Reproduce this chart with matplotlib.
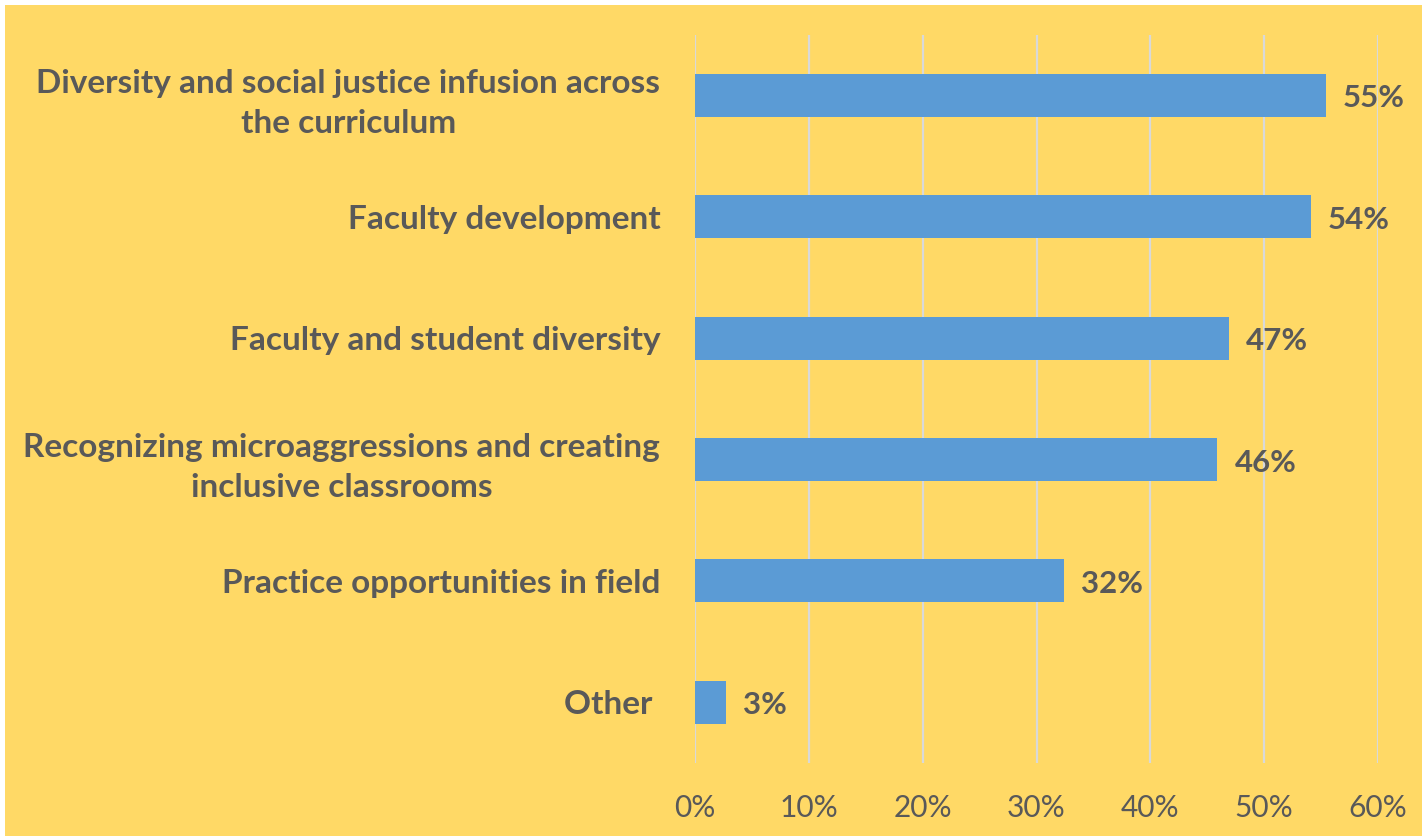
import matplotlib
matplotlib.use("Agg")
import matplotlib.pyplot as plt
from matplotlib.patches import Rectangle
from matplotlib.ticker import FuncFormatter, MultipleLocator

categories = [
    "Diversity and social justice infusion across\nthe curriculum",
    "Faculty development",
    "Faculty and student diversity",
    "Recognizing microaggressions and creating\ninclusive classrooms",
    "Practice opportunities in field",
    "Other ",
]
values = [0.554, 0.541, 0.469, 0.459, 0.324, 0.027]
value_labels = ["55%", "54%", "47%", "46%", "32%", "3%"]

BG = "#FFD966"
BAR = "#5B9BD5"
TXT = "#595959"
GRID = "#D9D9D9"
FONT = "Lato"

fig = plt.figure(figsize=(14.22, 8.36), dpi=100)
fig.patch.set_facecolor("white")
fig.patches.append(Rectangle((5/1422, 0), 1 - 5/1422, 1 - 5/836,
                             transform=fig.transFigure, facecolor=BG,
                             edgecolor="none", zorder=-10))

ax = fig.add_axes([695/1422, 1 - 763/836, (1378 - 695)/1422, (763 - 34.7)/836])
ax.set_facecolor("none")

y = list(range(len(categories)))
ax.barh(y, values, height=0.355, color=BAR, zorder=3)
ax.set_ylim(len(categories) - 0.5, -0.5)
ax.set_xlim(0, 0.6)
ax.xaxis.set_major_locator(MultipleLocator(0.1))
ax.xaxis.set_major_formatter(FuncFormatter(lambda v, p: f"{v*100:.0f}%"))
ax.grid(axis="x", color=GRID, linewidth=1.6, zorder=1)
ax.set_axisbelow(True)
for s in ax.spines.values():
    s.set_visible(False)
ax.tick_params(axis="x", length=0, pad=22, labelsize=21.5, labelcolor=TXT)
for lab in ax.get_xticklabels():
    lab.set_fontfamily(FONT)
ax.set_yticks(y)
ax.set_yticklabels(categories, fontsize=24, fontweight="bold", color=TXT,
                   fontfamily=FONT, multialignment="center", linespacing=1.45)
ax.tick_params(axis="y", length=0, pad=25)

for yi, v, lab in zip(y, values, value_labels):
    ax.annotate(lab, xy=(v, yi), xytext=(17, -3), textcoords="offset pixels",
                ha="left", va="center", fontsize=22.5, fontweight="bold",
                color=TXT, fontfamily=FONT)

fig.savefig("out.png", dpi=100, facecolor=fig.get_facecolor())
